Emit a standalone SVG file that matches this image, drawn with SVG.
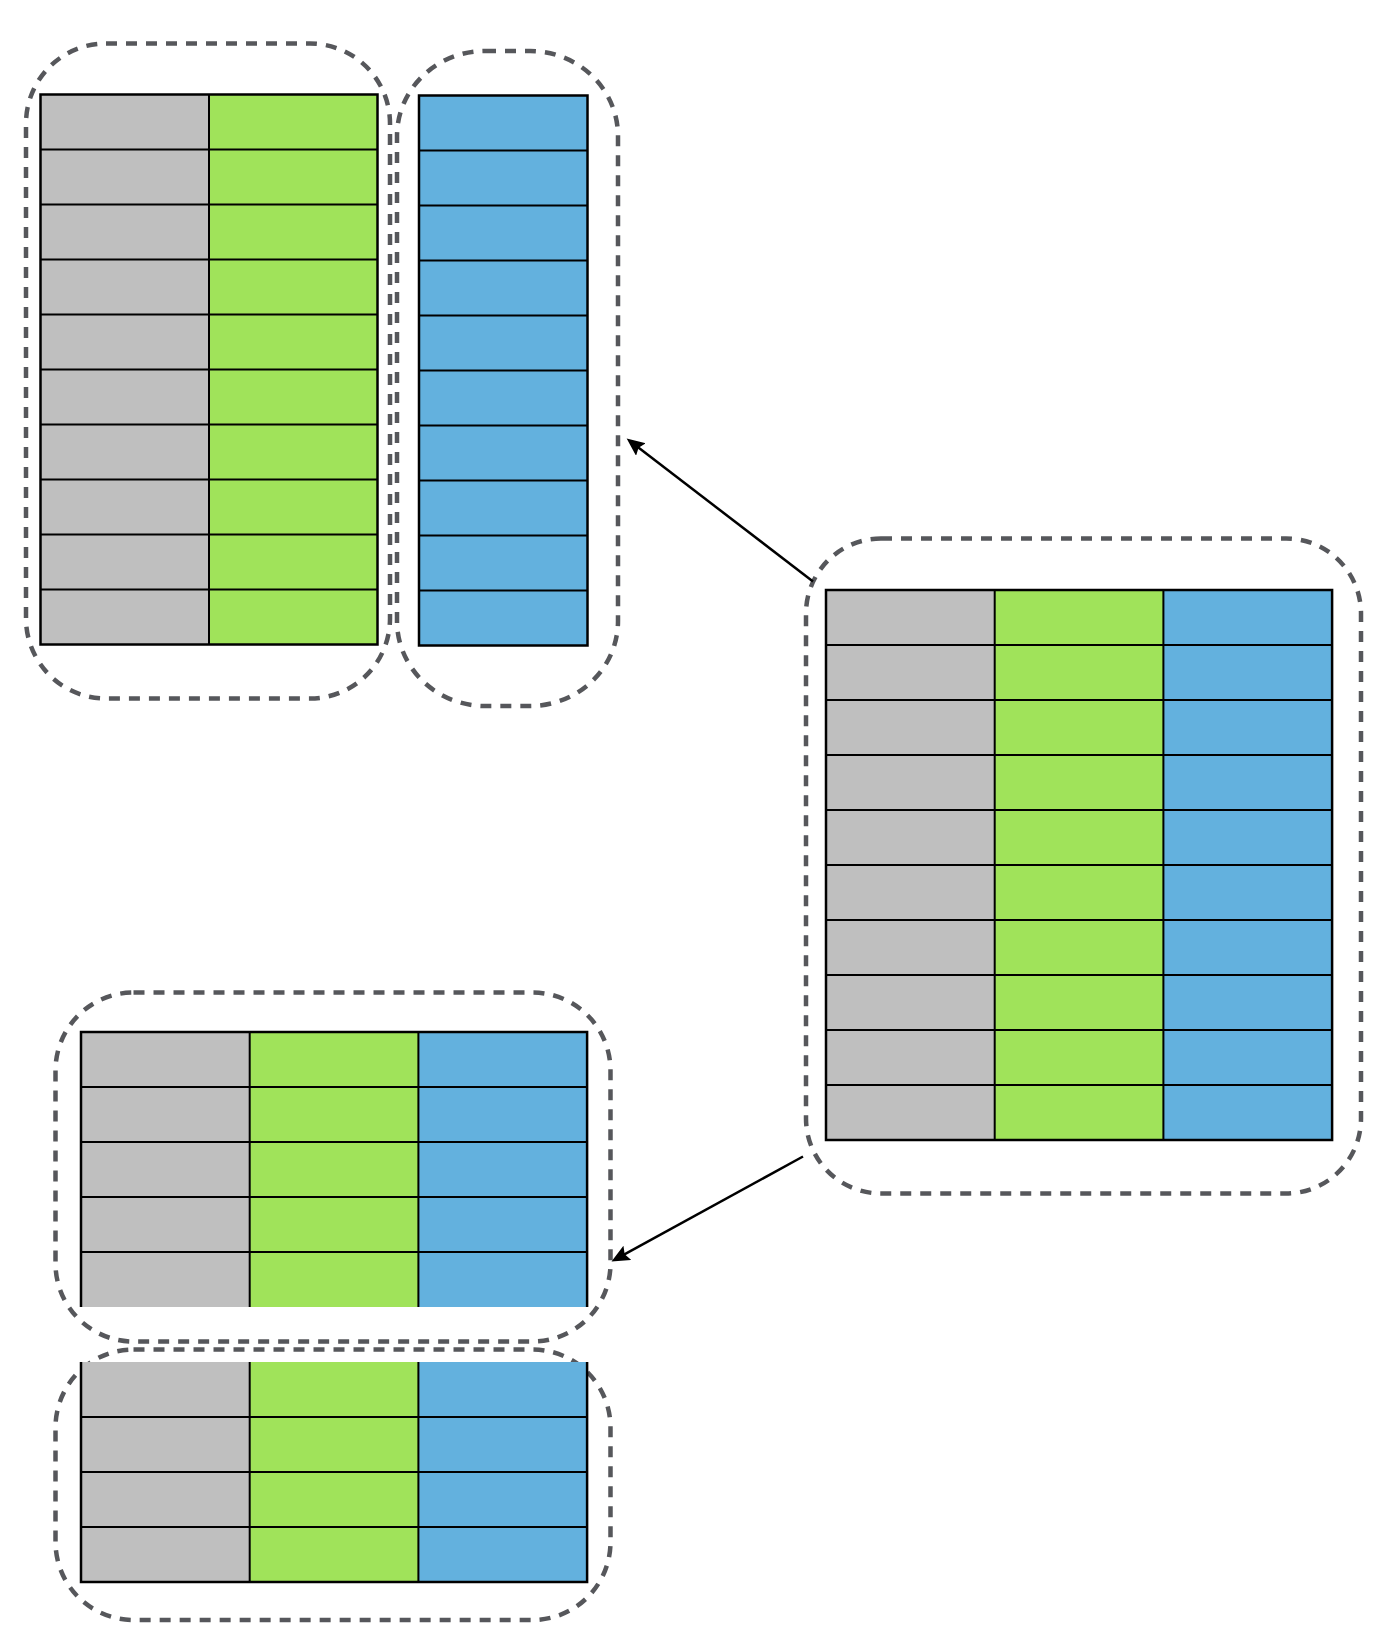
<svg xmlns="http://www.w3.org/2000/svg" width="1388" height="1646" viewBox="0 0 1388 1646">
  <style>
    .box { fill: none; stroke: #56575b; stroke-width: 4.5; stroke-dasharray: 11 9; }
    .gray { fill: #bfbfbf; }
    .green { fill: #a0e35a; }
    .blue { fill: #63b1de; }
    .grid { stroke: #000; stroke-width: 2; fill: none; }
    .outer { stroke: #000; stroke-width: 2.5; fill: none; }
    .conn { stroke: #000; stroke-width: 2.5; fill: none; }
  </style>
  <defs>
    <marker id="arrow" markerUnits="userSpaceOnUse" markerWidth="20" markerHeight="18" refX="9" refY="8" orient="auto">
      <path d="M0,0 L18,8 L0,16 L3,8 z" fill="#000"/>
    </marker>
  </defs>
  <rect width="1388" height="1646" fill="#fff"/>

  <!-- Container 1 with gray/green table -->
  <g id="container1">
    <rect class="box" x="26" y="43.5" width="364" height="655" rx="80" ry="80"/>
  </g>
  <g id="table1">
    <rect class="gray" x="40.5" y="94.5" width="168.5" height="550"/>
    <rect class="green" x="209" y="94.5" width="168.5" height="550"/>
    <path class="grid" d="M209 94.5V644.5 M40.5 149.5H377.5 M40.5 204.5H377.5 M40.5 259.5H377.5 M40.5 314.5H377.5 M40.5 369.5H377.5 M40.5 424.5H377.5 M40.5 479.5H377.5 M40.5 534.5H377.5 M40.5 589.5H377.5"/>
    <rect class="outer" x="40.5" y="94.5" width="337" height="550"/>
  </g>

  <!-- Container 2 with blue column -->
  <g id="container2">
    <rect class="box" x="397" y="51" width="221" height="655" rx="88" ry="85"/>
  </g>
  <g id="table2">
    <rect class="blue" x="419" y="95.5" width="168.5" height="550"/>
    <path class="grid" d="M419 150.5H587.5 M419 205.5H587.5 M419 260.5H587.5 M419 315.5H587.5 M419 370.5H587.5 M419 425.5H587.5 M419 480.5H587.5 M419 535.5H587.5 M419 590.5H587.5"/>
    <rect class="outer" x="419" y="95.5" width="168.5" height="550"/>
  </g>

  <!-- Main container -->
  <g id="container-main">
    <rect class="box" x="806" y="538.5" width="555" height="655" rx="75" ry="75"/>
  </g>
  <g id="table-main">
    <rect class="gray" x="826" y="590" width="168.7" height="550"/>
    <rect class="green" x="994.7" y="590" width="168.7" height="550"/>
    <rect class="blue" x="1163.4" y="590" width="168.7" height="550"/>
    <path class="grid" d="M994.7 590V1140 M1163.4 590V1140 M826 645H1332.1 M826 700H1332.1 M826 755H1332.1 M826 810H1332.1 M826 865H1332.1 M826 920H1332.1 M826 975H1332.1 M826 1030H1332.1 M826 1085H1332.1"/>
    <rect class="outer" x="826" y="590" width="506.1" height="550"/>
  </g>

  <!-- Container A (5 rows) -->
  <g id="container-a">
    <rect class="box" x="55.5" y="992.5" width="555" height="349" rx="78" ry="78"/>
  </g>
  <g id="table-a">
    <rect class="gray" x="81" y="1032" width="168.7" height="275"/>
    <rect class="green" x="249.7" y="1032" width="168.7" height="275"/>
    <rect class="blue" x="418.4" y="1032" width="168.7" height="275"/>
    <path class="grid" d="M249.7 1032V1307 M418.4 1032V1307 M81 1087H587.1 M81 1142H587.1 M81 1197H587.1 M81 1252H587.1"/>
    <path class="outer" d="M81 1307V1032H587.1V1307"/>
  </g>

  <!-- Container B (4 rows) -->
  <g id="container-b">
    <rect class="box" x="55.5" y="1349.5" width="555" height="270.5" rx="78" ry="78"/>
  </g>
  <g id="table-b">
    <rect class="gray" x="81" y="1362" width="168.7" height="220"/>
    <rect class="green" x="249.7" y="1362" width="168.7" height="220"/>
    <rect class="blue" x="418.4" y="1362" width="168.7" height="220"/>
    <path class="grid" d="M249.7 1362V1582 M418.4 1362V1582 M81 1417H587.1 M81 1472H587.1 M81 1527H587.1"/>
    <path class="outer" d="M81 1362V1582H587.1V1362"/>
  </g>

  <!-- Connectors -->
  <g id="connectors">
    <line class="conn" x1="813" y1="581.5" x2="633.8" y2="444" marker-end="url(#arrow)"/>
    <line class="conn" x1="803" y1="1156.5" x2="619.4" y2="1257.2" marker-end="url(#arrow)"/>
  </g>
</svg>
